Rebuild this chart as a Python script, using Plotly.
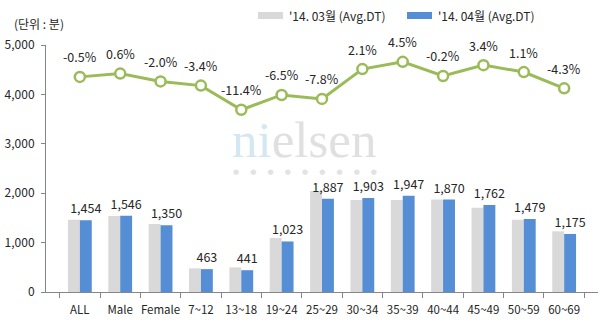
import plotly.graph_objects as go

# Average daily viewing time (minutes) by segment
categories = ["ALL", "Male", "Female", "7~12", "13~18", "19~24", "25~29",
              "30~34", "35~39", "40~44", "45~49", "50~59", "60~69"]
march = [1461, 1537, 1378, 479, 498, 1094, 2047, 1864, 1863, 1874, 1704, 1463, 1228]
april = [1454, 1546, 1350, 463, 441, 1023, 1887, 1903, 1947, 1870, 1762, 1479, 1175]
change_pct = [-0.5, 0.6, -2.0, -3.4, -11.4, -6.5, -7.8, 2.1, 4.5, -0.2, 3.4, 1.1, -4.3]

series_names = ["'14. 03월 (Avg.DT)", "'14. 04월 (Avg.DT)"]
unit_label = "(단위 : 분)"

GRAY = "#D9D9D9"
BLUE = "#558ED5"
GREEN = "#9BBB59"
TEXT = "#262626"
AXIS = "#868686"
FONT = "Noto Sans CJK KR"

fig = go.Figure()

fig.add_trace(go.Bar(
    x=categories, y=march, name=series_names[0],
    marker=dict(color=GRAY, line=dict(width=0)),
    showlegend=False,
))
fig.add_trace(go.Bar(
    x=categories, y=april, name=series_names[1],
    marker=dict(color=BLUE, line=dict(width=0)),
    text=[f"{v:,}" for v in april], textposition="outside",
    constraintext="none",
    textfont=dict(size=12.5, color=TEXT, family=FONT),
    cliponaxis=False, showlegend=False,
))

change = [p / 100 for p in change_pct]
fig.add_trace(go.Scatter(
    x=categories, y=change, yaxis="y2", mode="lines+markers",
    line=dict(color=GREEN, width=3),
    marker=dict(symbol="circle", size=10, color="white",
                line=dict(color=GREEN, width=2.5)),
    showlegend=False, cliponaxis=False,
))

annotations = []
for c, v, p in zip(categories, change, change_pct):
    annotations.append(dict(
        x=c, y=v, xref="x", yref="y2", text=f"{p:.1f}%", showarrow=False,
        yshift=20, font=dict(size=12.5, color=TEXT, family=FONT),
    ))

# unit label
annotations.append(dict(
    x=12, y=23, xref="paper", yref="paper", text=unit_label, showarrow=False,
    xanchor="left", yanchor="middle", font=dict(size=12, color=TEXT, family=FONT),
))

# watermark
annotations.append(dict(
    x=304, y=140, xref="paper", yref="paper", showarrow=False,
    text="<span style='color:#D3E8F2'>ni</span><span style='color:#E0E0E0'>elsen</span>",
    font=dict(size=51, family="Liberation Serif"),
    xanchor="center", yanchor="middle",
))
dot_gap = "\u00a0" * 5
annotations.append(dict(
    x=305, y=172, xref="paper", yref="paper", showarrow=False,
    text=dot_gap.join(["●"] * 9),
    font=dict(size=7, color="#E2E2E2", family="DejaVu Sans"),
    xanchor="center", yanchor="middle",
))

# legend entries
shapes = []
legend_items = [(258, GRAY, series_names[0]), (407, BLUE, series_names[1])]
for x0, col, name in legend_items:
    shapes.append(dict(type="rect", xref="paper", yref="paper",
                       x0=x0, x1=x0 + 25, y0=12, y1=19,
                       fillcolor=col, line=dict(width=0)))
    annotations.append(dict(
        x=x0 + 29, y=15.5, xref="paper", yref="paper", text=name,
        showarrow=False, xanchor="left", yanchor="middle",
        font=dict(size=12, color=TEXT, family=FONT),
    ))

W, H = 605, 327
L, R, T, B = 46, 7, 45, 35

# convert pixel-positioned overlay items to paper coordinates
def px_x(v):
    return (v - L) / (W - L - R)

def px_y(v):
    return 1 - (v - T) / (H - T - B)

for a in annotations:
    if a.get("xref") == "paper":
        a["x"] = px_x(a["x"])
        a["y"] = px_y(a["y"])
for s in shapes:
    s["x0"], s["x1"] = px_x(s["x0"]), px_x(s["x1"])
    s["y0"], s["y1"] = px_y(s["y0"]), px_y(s["y1"])

fig.update_layout(
    width=W, height=H,
    margin=dict(l=L, r=R, t=T, b=B, autoexpand=False),
    paper_bgcolor="white", plot_bgcolor="white",
    barmode="group", bargap=0.41, bargroupgap=0,
    font=dict(family=FONT, size=12, color=TEXT),
    annotations=annotations, shapes=shapes,
    xaxis=dict(
        showgrid=False, showline=True, linecolor=AXIS, linewidth=1,
        ticks="outside", tickson="boundaries", ticklen=5, tickcolor=AXIS,
        tickangle=0, automargin=False, ticklabelstandoff=7,
        tickfont=dict(size=11.5, color=TEXT, family=FONT),
    ),
    yaxis=dict(
        range=[0, 5000], tickvals=[0, 1000, 2000, 3000, 4000, 5000],
        tickformat=",", showgrid=False, zeroline=False,
        showline=True, linecolor=AXIS, linewidth=1,
        ticks="outside", ticklen=4, tickcolor=AXIS, automargin=False,
        ticklabelstandoff=4,
        tickfont=dict(size=12, color=TEXT, family=FONT),
    ),
    yaxis2=dict(
        overlaying="y", side="right", range=[-0.7189, 0.1008],
        visible=False, showgrid=False, zeroline=False,
    ),
)

fig.write_html("out.html")
